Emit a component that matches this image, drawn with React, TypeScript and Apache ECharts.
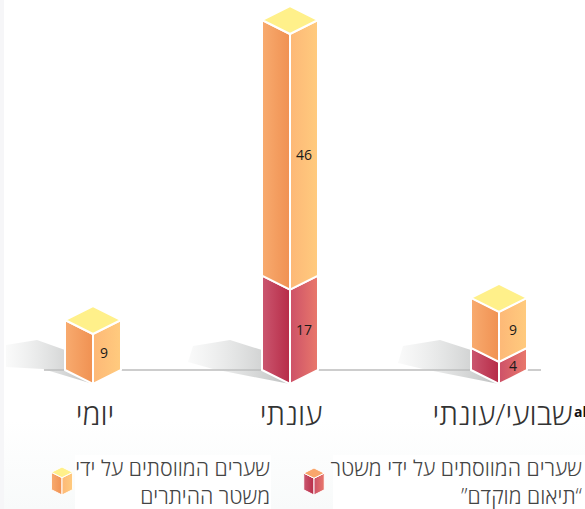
import React, { useEffect, useRef } from "react";
import * as echarts from "echarts";

const categories = ["יומי", "עונתי", "שבועי/עונתי"];
const earlyValues = [0, 17, 4];
const residualValues = [9, 46, 9];
const legendEarly = ["שערים המווסתים על ידי משטר", "”תיאום מוקדם“"];
const legendResidual = ["שערים המווסתים על ידי", "משטר ההיתרים"];

const FONT = '"Open Sans","Noto Sans",sans-serif';
const HW = 28;
const SL = 14;
const MID_SHIFT = [0, -6, 0];
const LABEL_SHIFT = [-3, 0, 0];
const SHADOWS = [
  [[-87, -39], [-56, -44], [-28, -34], [-28, -14], [0, 0], [-50, -15], [-87, -17]],
  [[-97, -38], [-60, -44], [-28, -34], [-28, -14], [0, 0], [-77, -15], [-102, -22]],
  [[-96, -38], [-59, -44], [-28, -34], [-28, -14], [0, 0], [-76, -15], [-101, -21]],
];

const grad = (a: string, b: string) => new echarts.graphic.LinearGradient(0, 0, 1, 0, [
  { offset: 0, color: a }, { offset: 1, color: b },
]);
const RED = { l: ["#cb5770", "#b72b47"], r: ["#cd5168", "#e9786b"] };
const ORG = { l: ["#f8ab6f", "#f09152"], r: ["#fdb877", "#ffcb7e"] };
const TOP = "#fff08a";
const stroke = { stroke: "#ffffff", lineWidth: 2 };

function poly(points: number[][], fill: any, extra: any = stroke) {
  return { type: "polygon", shape: { points }, style: { fill, ...extra } };
}

function segment(cx: number, y0: number, y1: number, c: any, label: string, top: boolean, lx: number) {
  const kids: any[] = [
    poly([[cx - HW, y0 - SL], [cx, y0], [cx, y1], [cx - HW, y1 - SL]], grad(c.l[0], c.l[1])),
    poly([[cx, y0], [cx + HW, y0 - SL], [cx + HW, y1 - SL], [cx, y1]], grad(c.r[0], c.r[1])),
  ];
  if (top) kids.push(poly([[cx, y1], [cx - HW, y1 - SL], [cx, y1 - 2 * SL], [cx + HW, y1 - SL]], TOP));
  kids.push({
    type: "text",
    style: {
      x: cx + HW / 2 + lx, y: (y0 + y1) / 2 - SL / 2, text: label, align: "center", verticalAlign: "middle",
      fill: "#1a1a1a", font: `14px ${FONT}`,
    },
  });
  return { type: "group", children: kids };
}

function stackSeries(name: string, values: number[], base: number[], colors: any, top: boolean) {
  return {
    type: "custom", name, z: 5, clip: false,
    encode: { x: 0, y: 2 },
    data: values.map((v, i) => [i, base[i], base[i] + v, v]),
    renderItem: (_: any, api: any) => {
      const v = api.value(3);
      if (!v) return { type: "group", children: [] };
      const i = api.value(0);
      const cx = api.coord([i, 0])[0] + MID_SHIFT[i];
      return segment(cx, api.coord([i, api.value(1)])[1], api.coord([i, api.value(2)])[1], colors, String(v), top, LABEL_SHIFT[i]);
    },
  };
}

function cube(cx: number, yTop: number, h: number, c: any, top: string) {
  const hw = h * 0.38;
  const s = h * 0.19;
  const st = { stroke: "#ffffff", lineWidth: 1 };
  const yb = yTop + h;
  const yf = yTop + 2 * s;
  return {
    type: "group",
    children: [
      poly([[cx - hw, yf - s], [cx, yf], [cx, yb], [cx - hw, yb - s]], grad(c.l[0], c.l[1]), st),
      poly([[cx, yf], [cx + hw, yf - s], [cx + hw, yb - s], [cx, yb]], grad(c.r[0], c.r[1]), st),
      poly([[cx, yf], [cx - hw, yf - s], [cx, yTop], [cx + hw, yf - s]], top, st),
    ],
  };
}

function legendText(right: number, lines: string[]) {
  return lines.map((t, i) => ({
    type: "text",
    style: {
      x: right, y: 467 + i * 28, text: t, align: "right", verticalAlign: "middle",
      fill: "#444444", font: `300 21.4px ${FONT}`,
    },
  }));
}

export default function App() {
  const ref = useRef<HTMLDivElement>(null);
  useEffect(() => {
    document.body.style.margin = "0";
    const chart = echarts.init(ref.current!, undefined, { renderer: "svg" });
    const zeros = categories.map(() => 0);
    const lab = { fontFamily: FONT, fontWeight: 300, fontSize: 30, color: "#333333" };
    chart.setOption({
      animation: false,
      backgroundColor: "#ffffff",
      grid: { left: -8.5, right: -15.5, top: 34, height: 350, outerBoundsMode: "none", containLabel: false },
      xAxis: {
        type: "category", data: categories, boundaryGap: true,
        axisLine: { show: false }, axisTick: { show: false },
        axisLabel: {
          margin: 14, interval: 0, hideOverlap: false,
          formatter: (v: string) => `{c${categories.indexOf(v)}|${v}}`,
          rich: {
            c0: { ...lab, padding: [0, 0, 0, 4] },
            c1: { ...lab, padding: [0, 10, 0, 0] },
            c2: { ...lab, padding: [0, 0, 0, 7] },
          },
        },
      },
      yAxis: { type: "value", min: 0, max: 63, show: false, splitLine: { show: false } },
      graphic: [
        {
          type: "rect", z: 0, shape: { x: 0, y: 420, width: 585, height: 89 },
          style: {
            fill: new echarts.graphic.LinearGradient(0, 0, 0, 1, [
              { offset: 0, color: "#ffffff" }, { offset: 1, color: "#f8fafa" },
            ]),
          },
        },
        { type: "rect", z: 0, shape: { x: 0, y: 0, width: 4, height: 509 }, style: { fill: "#f6f6f8" } },
        { type: "rect", z: 0, shape: { x: 75, y: 455, width: 196, height: 54 }, style: { fill: "#ffffff" } },
        { type: "rect", z: 0, shape: { x: 333, y: 455, width: 252, height: 54 }, style: { fill: "#ffffff" } },
        { type: "line", z: 1, shape: { x1: 44, y1: 370, x2: 541, y2: 370 }, style: { stroke: "#bdbdbd", lineWidth: 1.5 } },
        cube(62, 467, 28, ORG, TOP),
        cube(314, 468, 27, RED, "#f9a66c"),
        ...legendText(270, legendResidual),
        ...legendText(582, legendEarly),
        {
          type: "text",
          style: { x: 574, y: 411, text: "al", align: "left", verticalAlign: "middle", fill: "#111111", font: `700 14px ${FONT}` },
        },
      ],
      series: [
        {
          type: "custom", name: "shadow", z: 2, silent: true, clip: false,
          encode: { x: 0, y: 1 },
          data: categories.map((_, i) => [i, 0]),
          renderItem: (_: any, api: any) => {
            const i = api.value(0);
            const [x0, y] = api.coord([i, 0]);
            const x = x0 + MID_SHIFT[i];
            return {
              type: "polygon",
              shape: { points: SHADOWS[i].map(([a, b]) => [x + a, y + b]) },
              style: {
                fill: new echarts.graphic.LinearGradient(0, 0, 1, 0, [
                  { offset: 0, color: "rgba(205,208,208,0.1)" },
                  { offset: 1, color: "rgba(178,180,180,0.85)" },
                ]),
              },
            };
          },
        },
        stackSeries("שערים המווסתים על ידי משטר ”תיאום מוקדם“", earlyValues, zeros, RED, false),
        stackSeries("שערים המווסתים על ידי משטר ההיתרים", residualValues, earlyValues, ORG, true),
      ],
    });
    return () => chart.dispose();
  }, []);
  return <div ref={ref} style={{ width: 585, height: 509 }} />;
}
